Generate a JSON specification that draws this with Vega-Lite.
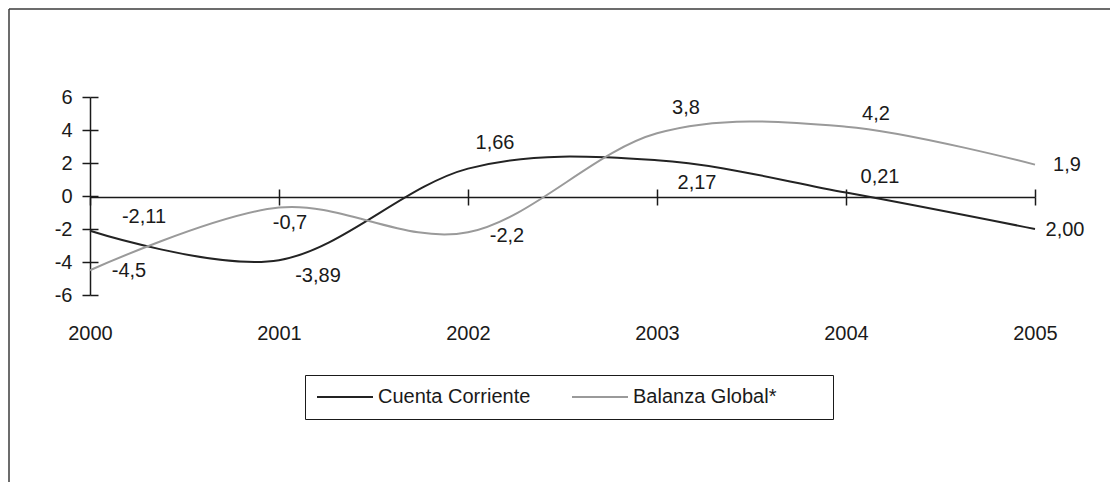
{
  "$schema": "https://vega.github.io/schema/vega-lite/v6.json",
  "width": 1101,
  "height": 473,
  "autosize": "none",
  "padding": {"left": 9, "top": 9, "right": 0, "bottom": 0},
  "background": "white",
  "config": {
    "font": "Liberation Sans",
    "view": {"stroke": "#3c3c3c", "strokeWidth": 1.5, "strokeDash": [1101, 1574, 473, 0]},
    "axis": {"grid": false, "title": null, "labelFont": "Liberation Sans", "labelFontSize": 20, "labelColor": "#1a1a1a", "domainColor": "#1a1a1a", "tickColor": "#1a1a1a", "domainWidth": 1.5, "tickWidth": 1.5, "labelFlush": false, "labelOverlap": false},
    "text": {"font": "Liberation Sans", "fontSize": 20, "align": "center", "baseline": "middle", "color": "#1a1a1a"}
  },
  "data": {"values": [
    {"year": 2000, "series": "Cuenta Corriente", "value": -2.11, "label": "-2,11"},
    {"year": 2001, "series": "Cuenta Corriente", "value": -3.89, "label": "-3,89"},
    {"year": 2002, "series": "Cuenta Corriente", "value": 1.66, "label": "1,66"},
    {"year": 2003, "series": "Cuenta Corriente", "value": 2.17, "label": "2,17"},
    {"year": 2004, "series": "Cuenta Corriente", "value": 0.21, "label": "0,21"},
    {"year": 2005, "series": "Cuenta Corriente", "value": -2.0, "label": "2,00"},
    {"year": 2000, "series": "Balanza Global*", "value": -4.5, "label": "-4,5"},
    {"year": 2001, "series": "Balanza Global*", "value": -0.7, "label": "-0,7"},
    {"year": 2002, "series": "Balanza Global*", "value": -2.2, "label": "-2,2"},
    {"year": 2003, "series": "Balanza Global*", "value": 3.8, "label": "3,8"},
    {"year": 2004, "series": "Balanza Global*", "value": 4.2, "label": "4,2"},
    {"year": 2005, "series": "Balanza Global*", "value": 1.9, "label": "1,9"}
  ]},
  "resolve": {"axis": {"x": "independent", "y": "independent"}},
  "layer": [
    {
      "mark": {"type": "line", "interpolate": "cardinal", "strokeWidth": 2},
      "encoding": {
        "x": {"field": "year", "type": "quantitative", "scale": {"domain": [2000, 2005], "range": [81, 1026], "nice": false, "zero": false},
              "axis": {"orient": "bottom", "offset": -187, "domain": false, "ticks": false, "tickSize": 0, "labelPadding": 28, "values": [2000, 2001, 2002, 2003, 2004, 2005], "format": "d"}},
        "y": {"field": "value", "type": "quantitative", "scale": {"domain": [-6, 6], "range": [286, 88], "nice": false, "zero": false},
              "axis": {"orient": "left", "offset": -81, "tickSize": 8, "labelPadding": 10, "values": [-6, -4, -2, 0, 2, 4, 6], "labelExpr": "datum.value + ''"}},
        "color": {"field": "series", "type": "nominal",
                  "scale": {"domain": ["Cuenta Corriente", "Balanza Global*"], "range": ["#232323", "#9a9a9a"]},
                  "legend": {"orient": "none", "legendX": 296, "legendY": 366, "direction": "horizontal", "symbolType": "stroke", "symbolSize": 3136, "symbolStrokeWidth": 2, "clipHeight": 22, "labelFontSize": 20, "labelFont": "Liberation Sans", "labelColor": "#1a1a1a", "labelOffset": 4, "columnPadding": 40, "padding": 11, "strokeColor": "#1a1a1a", "title": "\u00a0", "titleOrient": "right", "titlePadding": 46, "titleFontSize": 20, "titleFont": "Liberation Sans"}}
      }
    },
    {
      "transform": [{"filter": "datum.series == 'Cuenta Corriente' && datum.year == 2000"}],
      "mark": {"type": "text", "dx": 54, "dy": -14},
      "encoding": {
        "x": {"field": "year", "type": "quantitative", "scale": {"domain": [2000, 2005], "range": [81, 1026], "nice": false, "zero": false},
              "axis": {"orient": "bottom", "offset": -285, "tickSize": 8, "labels": false, "values": [2000, 2001, 2002, 2003, 2004, 2005]}},
        "y": {"field": "value", "type": "quantitative", "scale": {"domain": [-6, 6], "range": [286, 88], "nice": false, "zero": false},
              "axis": {"orient": "left", "offset": -89, "tickSize": 8, "labels": false, "domain": false, "values": [-6, -4, -2, 0, 2, 4, 6]}},
        "text": {"field": "label"}
      }
    },
    {
      "transform": [{"filter": "datum.series == 'Cuenta Corriente' && datum.year == 2001"}],
      "mark": {"type": "text", "dx": 39, "dy": 16},
      "encoding": {
        "x": {"field": "year", "type": "quantitative", "axis": {"orient": "bottom", "offset": -293, "tickSize": 8, "labels": false, "domain": false, "values": [2001, 2002, 2003, 2004, 2005]}},
        "y": {"field": "value", "type": "quantitative", "axis": null},
        "text": {"field": "label"}
      }
    },
    {
      "transform": [{"filter": "datum.series == 'Cuenta Corriente' && datum.year == 2002"}],
      "mark": {"type": "text", "dx": 27, "dy": -26},
      "encoding": {"x": {"field": "year", "type": "quantitative", "axis": null}, "y": {"field": "value", "type": "quantitative", "axis": null}, "text": {"field": "label"}}
    },
    {
      "transform": [{"filter": "datum.series == 'Cuenta Corriente' && datum.year == 2003"}],
      "mark": {"type": "text", "dx": 40, "dy": 23},
      "encoding": {"x": {"field": "year", "type": "quantitative", "axis": null}, "y": {"field": "value", "type": "quantitative", "axis": null}, "text": {"field": "label"}}
    },
    {
      "transform": [{"filter": "datum.series == 'Cuenta Corriente' && datum.year == 2004"}],
      "mark": {"type": "text", "dx": 34, "dy": -16},
      "encoding": {"x": {"field": "year", "type": "quantitative", "axis": null}, "y": {"field": "value", "type": "quantitative", "axis": null}, "text": {"field": "label"}}
    },
    {
      "transform": [{"filter": "datum.series == 'Cuenta Corriente' && datum.year == 2005"}],
      "mark": {"type": "text", "dx": 30, "dy": 1},
      "encoding": {"x": {"field": "year", "type": "quantitative", "axis": null}, "y": {"field": "value", "type": "quantitative", "axis": null}, "text": {"field": "label"}}
    },
    {
      "transform": [{"filter": "datum.series == 'Balanza Global*' && datum.year == 2000"}],
      "mark": {"type": "text", "dx": 39, "dy": 1},
      "encoding": {"x": {"field": "year", "type": "quantitative", "axis": null}, "y": {"field": "value", "type": "quantitative", "axis": null}, "text": {"field": "label"}}
    },
    {
      "transform": [{"filter": "datum.series == 'Balanza Global*' && datum.year == 2001"}],
      "mark": {"type": "text", "dx": 11, "dy": 15},
      "encoding": {"x": {"field": "year", "type": "quantitative", "axis": null}, "y": {"field": "value", "type": "quantitative", "axis": null}, "text": {"field": "label"}}
    },
    {
      "transform": [{"filter": "datum.series == 'Balanza Global*' && datum.year == 2002"}],
      "mark": {"type": "text", "dx": 39, "dy": 4},
      "encoding": {"x": {"field": "year", "type": "quantitative", "axis": null}, "y": {"field": "value", "type": "quantitative", "axis": null}, "text": {"field": "label"}}
    },
    {
      "transform": [{"filter": "datum.series == 'Balanza Global*' && datum.year == 2003"}],
      "mark": {"type": "text", "dx": 29, "dy": -25},
      "encoding": {"x": {"field": "year", "type": "quantitative", "axis": null}, "y": {"field": "value", "type": "quantitative", "axis": null}, "text": {"field": "label"}}
    },
    {
      "transform": [{"filter": "datum.series == 'Balanza Global*' && datum.year == 2004"}],
      "mark": {"type": "text", "dx": 30, "dy": -13},
      "encoding": {"x": {"field": "year", "type": "quantitative", "axis": null}, "y": {"field": "value", "type": "quantitative", "axis": null}, "text": {"field": "label"}}
    },
    {
      "transform": [{"filter": "datum.series == 'Balanza Global*' && datum.year == 2005"}],
      "mark": {"type": "text", "dx": 32, "dy": 0},
      "encoding": {"x": {"field": "year", "type": "quantitative", "axis": null}, "y": {"field": "value", "type": "quantitative", "axis": null}, "text": {"field": "label"}}
    }
  ]
}
